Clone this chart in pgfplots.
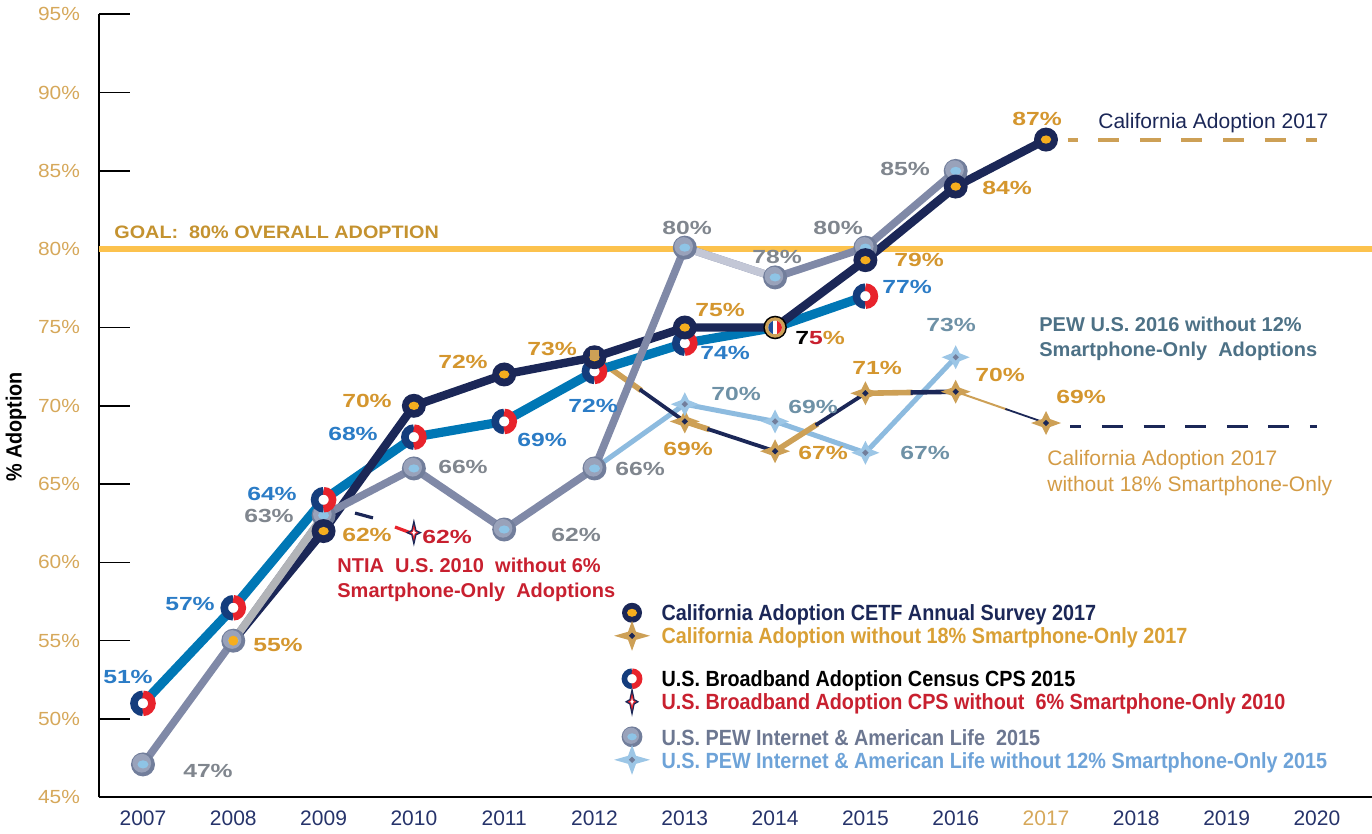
\documentclass[border=0pt]{standalone}
\usepackage{fontspec}
\setmainfont{Liberation Sans}
\newfontfamily\widef[FakeStretch=1.3]{Liberation Sans}
\newfontfamily\goalf[FakeStretch=1.1]{Liberation Sans}
\newfontfamily\tickf[FakeStretch=1.1]{Liberation Sans}
\newfontfamily\narrowf[FakeStretch=0.9]{Liberation Sans}
\usepackage{pgfplots}
\pgfplotsset{compat=1.18}
\usetikzlibrary{calc}

\definecolor{cnavy}{HTML}{1B2757}
\definecolor{corange}{HTML}{F6AE1E}
\definecolor{cgoldlab}{HTML}{D4962E}
\definecolor{cblue}{HTML}{0077B5}
\definecolor{cbluelab}{HTML}{2B7CC6}
\definecolor{cred}{HTML}{E8232C}
\definecolor{cringnavy}{HTML}{143D7D}
\definecolor{cpew}{HTML}{8089A7}
\definecolor{cpewdark}{HTML}{727E9B}
\definecolor{cpewmid}{HTML}{99A2BA}
\definecolor{cpewlight}{HTML}{C3C7D6}
\definecolor{csilver}{HTML}{B2B4B8}
\definecolor{cpewin}{HTML}{8EC4E6}
\definecolor{cgraylab}{HTML}{80868E}
\definecolor{clblue}{HTML}{9CC6E6}
\definecolor{clbline}{HTML}{8DBBDF}
\definecolor{cslate}{HTML}{6E91A6}
\definecolor{cslatetext}{HTML}{4D7186}
\definecolor{cgold}{HTML}{CDA056}
\definecolor{cgoal}{HTML}{FCC24D}
\definecolor{cgoaltext}{HTML}{C4922F}
\definecolor{ctick}{HTML}{D6A85A}
\definecolor{cyear}{HTML}{26336A}
\definecolor{cnred}{HTML}{C8202F}
\definecolor{cflagblue}{HTML}{1F4E9C}
\definecolor{clegblue}{HTML}{6EA3D8}
\definecolor{cleggray}{HTML}{6C7791}
\definecolor{clegold}{HTML}{D9A035}
\definecolor{cwotext}{HTML}{D39B45}

\newcommand\starpath[3]{\pgfpathmoveto{\pgfpoint{#1}{0pt}}\pgfpathlineto{\pgfpoint{#3}{#3}}\pgfpathlineto{\pgfpoint{0pt}{#2}}\pgfpathlineto{\pgfpoint{-#3}{#3}}\pgfpathlineto{\pgfpoint{-#1}{0pt}}\pgfpathlineto{\pgfpoint{-#3}{-#3}}\pgfpathlineto{\pgfpoint{0pt}{-#2}}\pgfpathlineto{\pgfpoint{#3}{-#3}}\pgfpathclose}

\newcommand\mkcetf[2]{\begin{pgfscope}\pgfsetfillcolor{cnavy}\pgfpathcircle{\pgfpointorigin}{#1}\pgfusepath{fill}\pgfsetfillcolor{corange}\pgfpathellipse{\pgfpointorigin}{\pgfpoint{#2}{0pt}}{\pgfpoint{0pt}{0.8*#2}}\pgfusepath{fill}\end{pgfscope}}
\newcommand\mkcps[2]{\begin{pgfscope}\pgfsetlinewidth{#2}\pgfsetfillcolor{white}\pgfpathcircle{\pgfpointorigin}{#1}\pgfusepath{fill}\pgfsetstrokecolor{cringnavy}\pgfpathmoveto{\pgfpoint{0pt}{#1}}\pgfpatharc{90}{270}{#1}\pgfusepath{stroke}\pgfsetstrokecolor{cred}\pgfpathmoveto{\pgfpoint{0pt}{-#1}}\pgfpatharc{-90}{90}{#1}\pgfusepath{stroke}\end{pgfscope}}
\newcommand\mkpew[1]{\begin{pgfscope}\pgfsetfillcolor{cpewdark}\pgfpathcircle{\pgfpointorigin}{#1}\pgfusepath{fill}\pgfsetfillcolor{cpewmid}\pgfpathcircle{\pgfpoint{-0.1*#1}{0.1*#1}}{0.78*#1}\pgfusepath{fill}\pgfsetfillcolor{cpewin}\pgfpathellipse{\pgfpointorigin}{\pgfpoint{0.46*#1}{0pt}}{\pgfpoint{0pt}{0.34*#1}}\pgfusepath{fill}\end{pgfscope}}
\newcommand\mkgstar[2]{\begin{pgfscope}\pgfsetfillcolor{cgold}\starpath{#1}{#2}{2pt}\pgfusepath{fill}\pgfsetfillcolor{cnavy}\starpath{1.6pt}{1.6pt}{0.8pt}\pgfusepath{fill}\end{pgfscope}}
\newcommand\mkpstar[2]{\begin{pgfscope}\pgfsetfillcolor{clblue}\starpath{#1}{#2}{2pt}\pgfusepath{fill}\pgfsetfillcolor{cpewdark}\starpath{1.6pt}{1.6pt}{0.8pt}\pgfusepath{fill}\end{pgfscope}}
\newcommand\mkrstar[2]{\begin{pgfscope}\pgfsetfillcolor{cnavy}\starpath{#1}{#2}{1.3pt}\pgfusepath{fill}\pgfsetfillcolor{cred}\starpath{0.6*#1}{0.58*#2}{0.8pt}\pgfusepath{fill}\pgfsetfillcolor{white}\starpath{0.3*#1}{0.27*#2}{0.4pt}\pgfusepath{fill}\end{pgfscope}}

\pgfdeclareplotmark{cetf}{\mkcetf{6pt}{2.6pt}}
\pgfdeclareplotmark{cetfL}{\mkcetf{5pt}{2.5pt}}
\pgfdeclareplotmark{cps}{\mkcps{4.5pt}{3.8pt}}
\pgfdeclareplotmark{cpsL}{\mkcps{3.8pt}{2.8pt}}
\pgfdeclareplotmark{pew}{\mkpew{6pt}}
\pgfdeclareplotmark{pewL}{\mkpew{5.2pt}}
\pgfdeclareplotmark{gstar}{\mkgstar{7.5pt}{6pt}}
\pgfdeclareplotmark{gstarL}{\mkgstar{9pt}{7.5pt}}
\pgfdeclareplotmark{pstar}{\mkpstar{7pt}{6pt}}
\pgfdeclareplotmark{pstarL}{\mkpstar{9pt}{7.5pt}}
\pgfdeclareplotmark{rstar}{\mkrstar{4pt}{7pt}}
\pgfdeclareplotmark{rstarL}{\mkrstar{3.6pt}{7.5pt}}
\pgfdeclareplotmark{gsquare}{\begin{pgfscope}\pgfsetfillcolor{cgold}\pgfpathrectangle{\pgfpoint{-2.3pt}{-1.2pt}}{\pgfpoint{4.6pt}{4.6pt}}\pgfusepath{fill}\end{pgfscope}}
\pgfdeclareplotmark{flag}{\begin{pgfscope}\pgfsetfillcolor{black}\pgfpathcircle{\pgfpointorigin}{5.9pt}\pgfusepath{fill}\pgfsetfillcolor{cgold}\pgfpathcircle{\pgfpointorigin}{5.1pt}\pgfusepath{fill}\pgfpathcircle{\pgfpointorigin}{3.4pt}\pgfusepath{clip}\pgfsetfillcolor{white}\pgfpathrectangle{\pgfpoint{-3.5pt}{-3.5pt}}{\pgfpoint{7pt}{7pt}}\pgfusepath{fill}\pgfsetfillcolor{cflagblue}\pgfpathrectangle{\pgfpoint{-3.5pt}{-3.5pt}}{\pgfpoint{2.4pt}{7pt}}\pgfusepath{fill}\pgfsetfillcolor{cred}\pgfpathrectangle{\pgfpoint{1.1pt}{-3.5pt}}{\pgfpoint{2.4pt}{7pt}}\pgfusepath{fill}\end{pgfscope}}

\tikzset{
  lab/.style={font=\widef\bfseries\fontsize{9.5}{11}\selectfont, inner sep=0pt},
}
\pgfplotsset{
  legmark/.style={legend image code/.code={\path[draw=none,fill=none] (0pt,-1pt) rectangle (0.6cm,1pt);\begin{scope}[overlay,shift={(0.3cm,0.6pt)}]\pgfuseplotmark{#1}\end{scope}}},
  legax/.style={scale only axis, width=636.5pt, height=391.5pt, xmin=0, xmax=1, ymin=0, ymax=1, hide axis,
    at={(ax.south west)}, anchor=south west,
    legend cell align=left,
    legend style={at={(0.4053,#1)}, anchor=north west, draw=none, fill=none, inner sep=0pt, outer sep=0pt,
      row sep=0pt, column sep=5.5pt,
      nodes={inner sep=0.75pt, text height=8.5pt, text depth=1.5pt, font=\narrowf\bfseries\fontsize{11}{13}\selectfont}}},
}

\begin{document}
\begin{tikzpicture}
\begin{axis}[name=ax, scale only axis, width=636.5pt, height=391.5pt,
  xmin=2006.513, xmax=2020.61, ymin=45, ymax=95,
  axis x line=bottom, axis y line=left,
  axis line style={-, black, line width=0.9pt},
  xtick={2007,2008,2009,2010,2011,2012,2013,2014,2015,2016,2017,2018,2019,2020},
  xticklabels={2007,2008,2009,2010,2011,2012,2013,2014,2015,2016,\textcolor{ctick}{2017},2018,2019,2020},
  x tick style={draw=none},
  xticklabel style={font=\fontsize{10.5}{12}\selectfont, text=cyear, yshift=-3pt},
  ytick={45,50,55,60,65,70,75,80,85,90,95},
  yticklabels={45\%,50\%,55\%,60\%,65\%,70\%,75\%,80\%,85\%,90\%,95\%},
  yticklabel style={font=\tickf\fontsize{9.5}{11}\selectfont, text=ctick, xshift=-6pt},
  tick align=inside, major tick length=15.5pt,
  y tick style={black, line width=0.8pt},
  /pgf/number format/assume math mode=true,
]
% goal line
\addplot[cgoal, line width=3pt] coordinates {(2006.513,80) (2020.61,80)};
% dashed extensions
\addplot[cgold, line width=2pt, dash pattern=on 10.5pt off 10.3pt, dash phase=5.5pt] coordinates {(2017.24,87) (2020,87)};
\addplot[cnavy, line width=1.6pt, dash pattern=on 10.5pt off 10.3pt, dash phase=5pt] coordinates {(2017.27,68.7) (2020,68.7)};
% PEW without smartphone-only
\addplot[clbline, line width=2.5pt, line join=round] coordinates {(2012,66) (2013,70.1) (2014,69) (2015,67) (2016,73.1)};
% California without smartphone-only: gold then navy on each segment
\addplot[cgold, line width=2.8pt, shorten >=26.7pt] coordinates {(2012,73.1) (2013,69)};
\addplot[cnavy, line width=1.9pt, shorten <=27.7pt] coordinates {(2012,73.1) (2013,69)};
\addplot[cgold, line width=2.8pt, shorten >=34.6pt] coordinates {(2013,69) (2014,67.1)};
\addplot[cnavy, line width=1.9pt, shorten <=11.9pt] coordinates {(2013,69) (2014,67.1)};
\addplot[cgold, line width=2.8pt, shorten >=28.5pt] coordinates {(2014,67.1) (2015,70.8)};
\addplot[cnavy, line width=1.9pt, shorten <=24.1pt] coordinates {(2014,67.1) (2015,70.8)};
\addplot[cgold, line width=2.8pt, shorten >=21.6pt] coordinates {(2015,70.8) (2016,70.9)};
\addplot[cnavy, line width=2.3pt, shorten <=22.6pt] coordinates {(2015,70.8) (2016,70.9)};
\addplot[cgold, line width=1pt, shorten >=20.5pt] coordinates {(2016,70.9) (2017,68.9)};
\addplot[cnavy, line width=0.9pt, shorten <=26.3pt] coordinates {(2016,70.9) (2017,68.9)};
% CPS without smartphone-only: dashes
\addplot[cnavy, line width=1.6pt] coordinates {(2009.348,63.15) (2009.547,62.84)};
\addplot[cred, line width=1.6pt] coordinates {(2009.791,62.26) (2009.957,61.9)};
% CPS line
\addplot[cblue, line width=4.6pt, line join=round] coordinates {(2007,51) (2008,57.1) (2009,64) (2010,68) (2011,69) (2012,72.2) (2013,74) (2014,75) (2015,77)};
% CETF line
\addplot[cnavy, line width=4.2pt, line join=round] coordinates {(2008,55) (2009,62) (2010,70) (2011,72) (2012,73.1) (2013,75) (2014,75) (2015,79.3) (2016,84) (2017,87)};
% PEW line
\addplot[cpew, line width=3.8pt, line join=round] coordinates {(2007,47.1) (2008,55) (2009,63) (2010,66) (2011,62.1) (2012,66) (2013,80.1) (2014,78.2) (2015,80.1) (2016,85)};
\addplot[csilver, line width=3.8pt] coordinates {(2008,55) (2009,63)};
\addplot[cpewlight, line width=3.8pt] coordinates {(2013,80.1) (2014,78.2)};
% markers
\addplot[only marks, mark=pew] coordinates {(2007,47.1) (2008,55) (2009,63) (2010,66) (2011,62.1) (2012,66) (2013,80.1) (2014,78.2) (2015,80.1) (2016,85)};
\addplot[only marks, mark=*, mark size=2.3pt, corange, mark options={draw=none}] coordinates {(2008,55)};
\addplot[only marks, mark=gstar] coordinates {(2013,69) (2014,67.1) (2015,70.8) (2016,70.9) (2017,68.9)};
\addplot[only marks, mark=pstar] coordinates {(2013,70.1) (2014,69) (2015,67) (2016,73.1)};
\addplot[only marks, mark=cps] coordinates {(2007,51) (2008,57.1) (2009,64) (2010,68) (2011,69) (2012,72.2) (2013,74) (2015,77)};
\addplot[only marks, mark=cetf] coordinates {(2009,62) (2010,70) (2011,72) (2012,73.1) (2013,75) (2015,79.3) (2016,84) (2017,87)};
\addplot[only marks, mark=gsquare] coordinates {(2012,73.1)};
\addplot[only marks, mark=flag] coordinates {(2014,75)};
\addplot[only marks, mark=rstar] coordinates {(2010,61.9)};
\end{axis}

\begin{axis}[legax=0.2488]
\addlegendimage{legmark=cetfL}
\addlegendentry[text=cnavy]{California Adoption CETF Annual Survey 2017}
\addlegendimage{legmark=gstarL}
\addlegendentry[text=clegold]{California Adoption without 18\% Smartphone-Only 2017}
\end{axis}
\begin{axis}[legax=0.1645]
\addlegendimage{legmark=cpsL}
\addlegendentry[text=black]{U.S. Broadband Adoption Census CPS 2015}
\addlegendimage{legmark=rstarL}
\addlegendentry[text=cnred]{U.S. Broadband Adoption CPS without\ \ 6\% Smartphone-Only 2010}
\end{axis}
\begin{axis}[legax=0.0904]
\addlegendimage{legmark=pewL}
\addlegendentry[text=cleggray]{U.S. PEW Internet \& American Life\ \ 2015}
\addlegendimage{legmark=pstarL}
\addlegendentry[text=clegblue]{U.S. PEW Internet \& American Life without 12\% Smartphone-Only 2015}
\end{axis}

\pgfresetboundingbox
\begin{scope}[shift={($(ax.south west)+(-49.5pt,398.65pt)$)}, x=0.5pt, y=-0.5pt]
\path[use as bounding box] (0,0) rectangle (1372,834);
% y label
\node[rotate=90, font=\narrowf\bfseries\fontsize{11}{13}\selectfont, inner sep=0pt] at (16,427) {\% Adoption};
% goal text
\node[anchor=west, inner sep=0pt, font=\goalf\bfseries\fontsize{9}{11}\selectfont, text=cgoaltext] at (114,232) {GOAL:\ \ 80\% OVERALL ADOPTION};
% CETF labels
\begin{scope}[every node/.style={lab, text=cgoldlab}]
\node at (278,645) {55\%};
\node at (367,535) {62\%};
\node at (367,401) {70\%};
\node at (463,362) {72\%};
\node at (552,349) {73\%};
\node at (720,310) {75\%};
\node at (919,260) {79\%};
\node at (1007,188) {84\%};
\node at (1037,119) {87\%};
\node at (688,449) {69\%};
\node at (823,453) {67\%};
\node at (877,368) {71\%};
\node at (1000,375) {70\%};
\node at (1081,397) {69\%};
\node at (820,338) {\textcolor{black}{7}\textcolor{cnred}{5}\%};
\end{scope}
\begin{scope}[every node/.style={lab, text=cbluelab}]
\node at (128,677) {51\%};
\node at (190,604) {57\%};
\node at (272,494) {64\%};
\node at (353,434) {68\%};
\node at (542,440) {69\%};
\node at (593,406) {72\%};
\node at (725,353) {74\%};
\node at (907,287) {77\%};
\end{scope}
\begin{scope}[every node/.style={lab, text=cgraylab}]
\node at (208,771) {47\%};
\node at (269,516) {63\%};
\node at (463,467) {66\%};
\node at (576,535) {62\%};
\node at (640,469) {66\%};
\node at (687,228) {80\%};
\node at (777,257) {78\%};
\node at (838,228) {80\%};
\node at (905,169) {85\%};
\end{scope}
\begin{scope}[every node/.style={lab, text=cslate}]
\node at (736,394) {70\%};
\node at (813,407) {69\%};
\node at (925,453) {67\%};
\node at (951,325) {73\%};
\end{scope}
\node[lab, text=cnred] at (447,537) {62\%};
% annotations
\node[anchor=west, inner sep=0pt, font=\fontsize{10.5}{13}\selectfont, text=cnavy] at (1098,123) {California Adoption 2017};
\node[anchor=north west, inner sep=0pt, align=left, font=\bfseries\fontsize{10}{12.5}\selectfont, text=cslatetext] at (1039,317) {PEW U.S. 2016 without 12\%\\Smartphone-Only\ \ Adoptions};
\node[anchor=north west, inner sep=0pt, align=left, font=\fontsize{10.5}{13}\selectfont, text=cwotext] at (1047,450) {California Adoption 2017\\without 18\% Smartphone-Only};
\node[anchor=north west, inner sep=0pt, align=left, font=\bfseries\fontsize{10}{12.5}\selectfont, text=cnred] at (337,558) {NTIA\ \ U.S. 2010\ \ without 6\%\\Smartphone-Only\ \ Adoptions};
\end{scope}
\end{tikzpicture}
\end{document}
